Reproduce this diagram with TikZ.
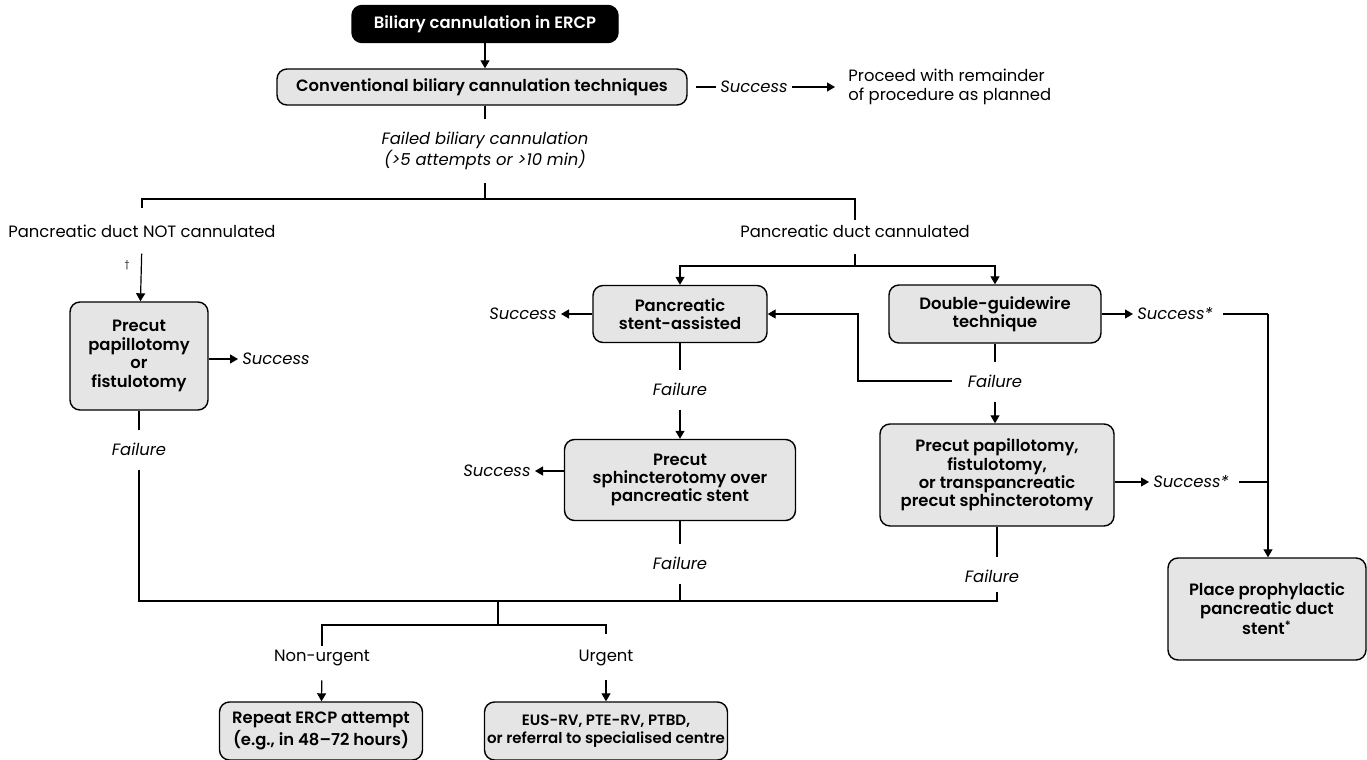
\documentclass[tikz,border=0pt]{standalone}
\usepackage{fontspec}
\setmainfont{Poppins}[BoldFont={Poppins SemiBold}]
\usetikzlibrary{arrows.meta,positioning}

\newcommand\dfont{\fontsize{8.2}{9.2}\selectfont}

\tikzset{
  box/.style={draw, rounded corners=5pt, fill=black!10, line width=0.7pt,
    align=center, font=\dfont\bfseries, inner sep=0pt},
  startbox/.style={box, fill=black, text=white},
  lbl/.style={align=center, inner sep=2pt, font=\dfont},
  ilbl/.style={lbl, font=\dfont\itshape},
  link/.style={line width=0.6pt},
  arr/.style={link, -{Triangle[length=4pt,width=4.5pt]}},
}

\begin{document}
\begin{tikzpicture}[x=0.5pt,y=-0.5pt]
\useasboundingbox (0,0) rectangle (1367,760);

% boxes
\node[startbox, minimum width=133pt, minimum height=18.5pt] (start) at (485,24) {Biliary cannulation in ERCP};
\node[box, minimum width=205pt, minimum height=18pt] (conv) at (482,87) {Conventional biliary cannulation techniques};
\node[box, minimum width=69pt, minimum height=54pt] (precutL) at (139,356) {Precut\\papillotomy\\or\\fistulotomy};
\node[box, minimum width=87pt, minimum height=28.5pt] (stent) at (680,314) {Pancreatic\\stent-assisted};
\node[box, minimum width=115.5pt, minimum height=40.5pt] (sphinc) at (680,480) {Precut\\sphincterotomy over\\pancreatic stent};
\node[box, minimum width=106pt, minimum height=29pt] (dgw) at (995,314) {Double-guidewire\\technique};
\node[box, minimum width=117pt, minimum height=51pt] (precutR) at (997,475) {Precut papillotomy,\\fistulotomy,\\or transpancreatic\\precut sphincterotomy};
\node[box, minimum width=101.5pt, minimum height=29pt] (repeat) at (321,731) {Repeat ERCP attempt\\(e.g., in 48--72 hours)};
\node[box, minimum width=121.5pt, minimum height=29pt, font=\fontsize{7.5}{9.2}\selectfont\bfseries] (rescue) at (606,731) {EUS-RV, PTE-RV, PTBD,\\or referral to specialised centre};
\node[box, minimum width=99pt, minimum height=51pt] (pds) at (1267,609) {Place prophylactic\\pancreatic duct\\stent\textsuperscript{*}};

% labels
\node[ilbl] (succ0) at (754,87) {Success};
\node[lbl, anchor=west, align=left] (proceed) at (844,87) {Proceed with remainder\\of procedure as planned};
\node[ilbl] (failed) at (485,151) {Failed biliary cannulation\\(>5 attempts or >10 min)};
\node[lbl] (notcan) at (142,231) {Pancreatic duct NOT cannulated};
\node[lbl] (can) at (855,231) {Pancreatic duct cannulated};
\node[lbl, font=\fontsize{4.5}{5}\selectfont] (dag) at (127,265) {\textdagger};
\node[ilbl, anchor=west] (succL) at (238,359) {Success};
\node[ilbl] (failL) at (139,449) {Failure};
\node[ilbl, anchor=east] (succS) at (561,314) {Success};
\node[ilbl] (failS) at (680,389) {Failure};
\node[ilbl, anchor=east] (succP) at (535,471) {Success};
\node[ilbl] (failP) at (680,563) {Failure};
\node[ilbl, anchor=west] (succD) at (1133,314) {Success*};
\node[ilbl] (failD) at (995,381) {Failure};
\node[ilbl, anchor=west] (succR) at (1149,482) {Success*};
\node[ilbl] (failR) at (992,576) {Failure};
\node[lbl] (nonurg) at (322,658) {Non-urgent};
\node[lbl] (urg) at (606,658) {Urgent};

% junctions
\coordinate (topL) at (142,199);
\coordinate (topR) at (855,199);
\coordinate (canJ) at (855,266);
\coordinate (botL) at (139,601);
\coordinate (botM) at (498,601);
\coordinate (urgJ) at (498,625);
\coordinate (pdsJ) at (1268,314);

% connectors
\draw[arr] (start.south -| 485,0) -- (conv.north -| 485,0);
\draw[link] ([xshift=4pt]conv.east) -- (succ0.west);
\draw[arr, shorten >=4.5pt] (succ0.east) -- (proceed.west);
\draw[link, shorten >=4pt] (conv.south -| failed) -- (failed.north);
\draw[link, shorten <=4pt] (failed.south) -- (failed.south |- topL);
\draw[link, shorten <=6pt] (notcan.north) -- (topL) -- (topR) -- (can.north);
\draw[arr, shorten <=6pt] (notcan.south) -- (precutL);
\draw[link, shorten <=6pt] (can.south) -- (canJ);
\draw[arr] (canJ) -| (stent.north);
\draw[arr] (canJ) -| (dgw.north);
\draw[arr] (precutL.east |- succL) -- (succL.west);
\draw[arr] (stent.west) -- (succS.east);
\draw[arr] (sphinc.west |- succP) -- (succP.east);
\draw[arr] (dgw.east) -- (succD.west);
\draw[arr] (precutR.east |- succR) -- (succR.west);
\draw[link, shorten >=4pt] (precutL) -- (failL.north);
\draw[link, shorten >=4pt] (stent) -- (failS.north);
\draw[arr, shorten <=5pt] (failS.south) -- (sphinc);
\draw[link, shorten >=4pt] (dgw) -- (failD.north);
\draw[arr, shorten <=5pt] (failD.south) -- (precutR.north -| failD);
\draw[arr, shorten <=6pt] (failD.west) -- (858,381) |- (stent.east);
\draw[link, shorten >=4pt] (sphinc) -- (failP.north);
\draw[link, shorten >=4pt] (precutR) -- (precutR.south |- failR.north);
\draw[link, shorten <=5pt] (failL.south) -- (botL) -- (botL -| precutR) -- ++(0,-9);
\draw[link, shorten <=5pt] (failP.south) -- (failP.south |- botL);
\draw[link] (succD.east) ++(3pt,0) -- (pdsJ);
\draw[link] (succR.east) ++(3pt,0) -- (pdsJ |- succR);
\draw[arr] (pdsJ) -- (pdsJ |- pds.north);
\draw[link] (botM) -- (urgJ);
\draw[link, shorten >=6pt] (nonurg.north) -- (nonurg.north |- urgJ) -- (urg.north |- urgJ) -- (urg.north);
\draw[arr, shorten <=5pt] (nonurg.south) -- (repeat);
\draw[arr, shorten <=5pt] (urg.south) -- (rescue);
\end{tikzpicture}
\end{document}
